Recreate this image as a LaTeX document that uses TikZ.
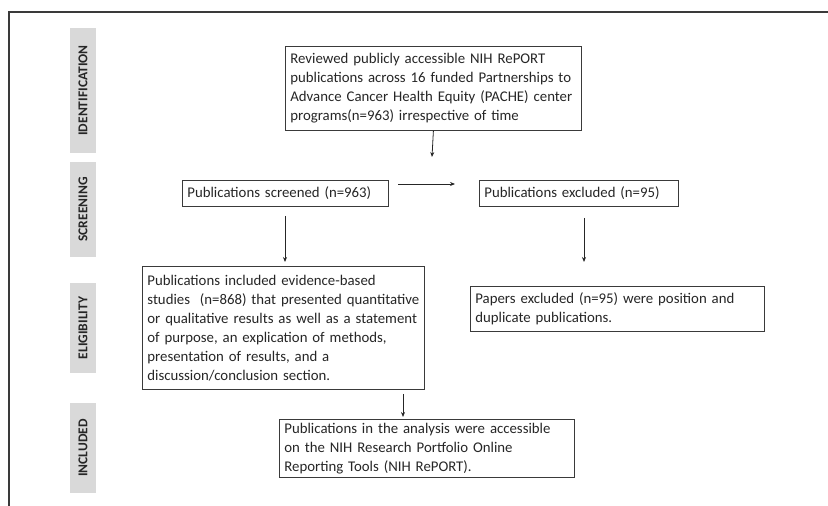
\documentclass[tikz,border=0pt]{standalone}
\usepackage{fontspec}
\setmainfont{Carlito}
\usepackage{tikz}
\usetikzlibrary{arrows.meta,positioning}
\definecolor{ink}{HTML}{262626}
\definecolor{frame}{HTML}{3A3A3A}
\definecolor{band}{HTML}{D9D9D9}
\definecolor{bandtxt}{HTML}{262626}

\begin{document}
\begin{tikzpicture}[
  x=1pt, y=-1pt,
  font=\fontsize{14.8}{19}\selectfont, text=ink,
  box/.style={draw=frame,line width=0.8pt,fill=white,anchor=north west,align=left,inner xsep=5pt,inner ysep=0pt},
  stage/.style={fill=band,rotate=90,minimum height=26pt,inner sep=0pt,text=bandtxt,font=\fontsize{13.5}{15}\selectfont\bfseries},
  arr/.style={-{Stealth[length=5pt,width=4pt]},draw=ink,line width=0.8pt},
]
\useasboundingbox (0,0) rectangle (828,506);
\draw[frame,line width=1.1pt] (9,506) -- (9,12) -- (828,12);

% stage bands
\node[stage, minimum width=125pt] (sid) at (83,90.5) {IDENTIFICATION};
\node[stage, minimum width=95pt] (sscr) at (83,209.5) {SCREENING};
\node[stage, minimum width=90pt] (selig) at (83,328) {ELIGIBILITY};
\node[stage, minimum width=90pt] (sinc) at (83,448) {INCLUDED};

% boxes
\node[box, text width=286pt, minimum height=84pt] (idn) at (285,46) {Reviewed publicly accessible NIH RePORT\\publications across 16 funded Partnerships to\\Advance Cancer Health Equity (PACHE) center\\programs(n=963) irrespective of time};
\node[box, text width=196pt, minimum height=26pt] (scr) at (182,180) {Publications screened (n=963)};
\node[box, text width=189pt, minimum height=26pt] (exc) at (479,180) {Publications excluded (n=95)};
\node[box, text width=284pt, minimum height=45pt] (pap) at (470,286) {Papers excluded (n=95) were position and\\duplicate publications.};
\node[box, text width=272pt, minimum height=123pt] (elig) at (142,266) {Publications included evidence-based\\studies~ (n=868) that presented quantitative\\or qualitative results as well as a statement\\of purpose, an explication of methods,\\presentation of results, and a\\discussion/conclusion section.};
\node[box, text width=285pt, minimum height=58pt] (inc) at (279,419) {Publications in the analysis were accessible\\on the NIH Research Portfolio Online\\Reporting Tools (NIH RePORT).};

% free arrow ends
\coordinate (down) at (432,157);
\coordinate (hs) at (398,184);
\coordinate (he) at (455,184);

\draw[arr] (idn.south) -- (down);
\draw[arr] (hs) -- (he);
\draw[arr, shorten <=9pt, shorten >=4pt] (scr.south -| 285,0) -- (elig.north -| 285,0);
\draw[arr, shorten <=11pt, shorten >=24pt] (exc.south -| 584,0) -- (pap.north -| 584,0);
\draw[arr, shorten <=4pt, shorten >=2pt] (elig.south -| 403,0) -- (inc.north -| 403,0);
\end{tikzpicture}
\end{document}
